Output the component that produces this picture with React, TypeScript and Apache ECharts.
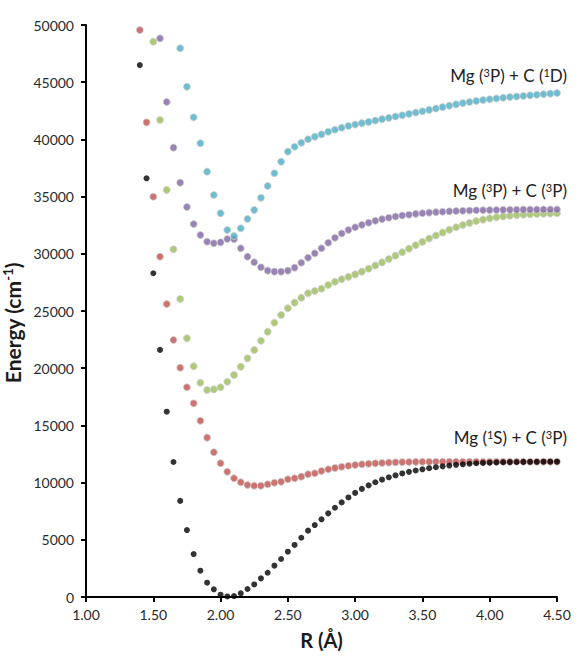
import React, { useEffect, useRef } from "react";
import * as echarts from "echarts";

const R_GRID = [
  1.4, 1.45, 1.5, 1.55, 1.6, 1.65, 1.7, 1.75, 1.8, 1.85, 1.9, 1.95, 2.0, 2.05, 2.1, 2.15, 2.2, 2.25, 2.3, 2.35, 2.4,
  2.45, 2.5, 2.55, 2.6, 2.65, 2.7, 2.75, 2.8, 2.85, 2.9, 2.95, 3.0, 3.05, 3.1, 3.15, 3.2, 3.25, 3.3, 3.35, 3.4, 3.45,
  3.5, 3.55, 3.6, 3.65, 3.7, 3.75, 3.8, 3.85, 3.9, 3.95, 4.0, 4.05, 4.1, 4.15, 4.2, 4.25, 4.3, 4.35, 4.4, 4.45, 4.5,
];

// Mg(1S)+C(3P), lower state (black)
const blackE = [
  46500, 36600, 28300, 21600, 16200, 11800, 8400, 5850, 3750, 2300, 1250, 670, 200, 50, 80, 320, 700, 1100, 1630,
  2120, 2740, 3320, 3960, 4550, 5180, 5800, 6290, 6790, 7310, 7800, 8270, 8700, 9100, 9450, 9760, 10030, 10260,
  10460, 10640, 10800, 10940, 11060, 11160, 11260, 11340, 11420, 11490, 11550, 11600, 11650, 11690, 11720, 11740,
  11760, 11780, 11790, 11800, 11810, 11815, 11820, 11825, 11830, 11830,
];

// Mg(1S)+C(3P), upper state (red)
const redE = [
  49560, 41490, 34990, 29750, 25610, 22470, 20040, 18330, 16930, 15410, 13930, 12650, 11690, 10950, 10380, 10030,
  9790, 9730, 9730, 9850, 9990, 10080, 10290, 10380, 10520, 10730, 10810, 11010, 11160, 11280, 11380, 11470, 11540,
  11600, 11650, 11690, 11720, 11750, 11770, 11790, 11800, 11810, 11815, 11820, 11820, 11825, 11825, 11830, 11830,
  11830, 11830, 11830, 11830, 11830, 11830, 11830, 11830, 11830, 11830, 11830, 11830, 11830, 11830,
];

// Mg(3P)+C(3P), lower (green)
const greenE = [
  null, null, 48540, 41700, 35580, 30390, 26050, 22610, 20170, 18730, 18090, 18150, 18330, 18820, 19410, 20130,
  20860, 21590, 22400, 23190, 23980, 24650, 25240, 25730, 26160, 26550, 26750, 26950, 27270, 27550, 27780, 27980,
  28200, 28440, 28700, 28970, 29250, 29550, 29840, 30140, 30450, 30750, 31040, 31330, 31600, 31860, 32100, 32320,
  32520, 32700, 32860, 32990, 33100, 33190, 33270, 33330, 33380, 33420, 33450, 33480, 33500, 33520, 33540,
];

// Mg(3P)+C(3P), upper (purple)
const purpleE = [
  null, null, null, 48830, 43270, 39280, 36220, 34090, 32600, 31640, 31060, 30920, 31000, 31290, 31270, 30480,
  29750, 29260, 28820, 28530, 28440, 28440, 28530, 28790, 29220, 29660, 30040, 30480, 30970, 31400, 31780, 32080,
  32320, 32530, 32720, 32890, 33030, 33150, 33260, 33350, 33420, 33490, 33550, 33600, 33640, 33680, 33710, 33740,
  33760, 33780, 33800, 33810, 33820, 33830, 33840, 33850, 33855, 33860, 33865, 33870, 33875, 33880, 33880,
];

// Mg(3P)+C(1D) (cyan)
const cyanE = [
  null, null, null, null, null, null, 47960, 44610, 41930, 39660, 37180, 35140, 33540, 32080, 31560, 32230, 33040,
  33830, 34900, 35930, 37040, 38050, 38930, 39360, 39710, 40010, 40240, 40440, 40670, 40850, 41020, 41170, 41300,
  41420, 41530, 41650, 41770, 41880, 42000, 42110, 42230, 42350, 42460, 42580, 42700, 42820, 42940, 43060, 43170,
  43270, 43360, 43440, 43510, 43580, 43640, 43700, 43750, 43800, 43850, 43900, 43950, 44000, 44050,
];

const X_TICKS = [1.0, 1.5, 2.0, 2.5, 3.0, 3.5, 4.0, 4.5];
const Y_TICKS = [0, 5000, 10000, 15000, 20000, 25000, 30000, 35000, 40000, 45000, 50000];

const LABELS = [
  { text: "Mg ({s|3}P) + C ({s|1}D)", y: 79 },
  { text: "Mg ({s|3}P) + C ({s|3}P)", y: 194 },
  { text: "Mg ({s|1}S) + C ({s|3}P)", y: 441 },
];

const FONT = "Lato, 'Open Sans', sans-serif";

function pairs(values: (number | null)[]) {
  const out: [number, number][] = [];
  values.forEach((v, i) => {
    if (v !== null) out.push([R_GRID[i], v]);
  });
  return out;
}

export default function App() {
  const ref = useRef<HTMLDivElement>(null);
  useEffect(() => {
    document.body.style.margin = "0";
    if (!ref.current) return;
    const chart = echarts.init(ref.current, undefined, { renderer: "svg" });
    const mk = (name: string, data: (number | null)[], color: string, size: number, border: boolean) => ({
      name,
      type: "scatter",
      data: pairs(data),
      symbol: "circle",
      symbolSize: size,
      itemStyle: border
        ? { color, borderColor: "rgba(205,205,205,0.95)", borderWidth: 1 }
        : { color, borderWidth: 0 },
      emphasis: { disabled: true },
    });
    chart.setOption({
      animation: false,
      grid: { left: 86, right: 23, top: 25, bottom: 69, containLabel: false, outerBoundsMode: "none" },
      xAxis: {
        type: "value",
        min: 1,
        max: 4.5,
        interval: 0.5,
        name: "R (Å)",
        nameLocation: "middle",
        nameGap: 33,
        nameTextStyle: { fontFamily: FONT, fontWeight: "bold", fontSize: 20, color: "#1a1a1a" },
        axisLine: { show: true, onZero: false, lineStyle: { color: "#000", width: 2 } },
        axisTick: { show: true, inside: false, length: 5, lineStyle: { color: "#000", width: 2 } },
        axisLabel: {
          fontFamily: FONT,
          fontSize: 14,
          color: "#2a2a2a",
          margin: 10,
          formatter: (v: number) => (X_TICKS.includes(v) ? v.toFixed(2) : ""),
        },
        splitLine: { show: false },
      },
      yAxis: {
        type: "value",
        min: 0,
        max: 50000,
        interval: 5000,
        name: "Energy (cm{s|-1})",
        nameLocation: "middle",
        nameGap: 55,
        nameTextStyle: {
          fontFamily: FONT,
          fontWeight: "bold",
          fontSize: 21,
          color: "#1a1a1a",
          padding: [0, 24, 0, 0],
          rich: { s: { fontFamily: FONT, fontWeight: "bold", fontSize: 13, verticalAlign: "top", color: "#1a1a1a" } },
        },
        axisLine: { show: true, onZero: false, lineStyle: { color: "#000", width: 2 } },
        axisTick: { show: true, inside: false, length: 5, lineStyle: { color: "#000", width: 2 } },
        axisLabel: {
          fontFamily: FONT,
          fontSize: 14,
          color: "#2a2a2a",
          margin: 12,
          formatter: (v: number) => (Y_TICKS.includes(v) ? String(v) : ""),
        },
        splitLine: { show: false },
      },
      series: [
        mk("Mg(1S)+C(3P) upper", redE, "#c0504d", 7, true),
        mk("Mg(3P)+C(3P) lower", greenE, "#9bbb59", 7, true),
        mk("Mg(3P)+C(3P) upper", purpleE, "#8064a2", 7, true),
        mk("Mg(3P)+C(1D)", cyanE, "#4bacc6", 7, true),
        mk("Mg(1S)+C(3P) ground", blackE, "#000000", 6, false),
      ],
      graphic: LABELS.map((l) => ({
        type: "text",
        right: 13,
        top: l.y - 12,
        style: {
          text: l.text,
          fontFamily: FONT,
          fontSize: 17,
          fill: "#222",
          rich: { s: { fontFamily: FONT, fontSize: 11, verticalAlign: "top", fill: "#222" } },
        },
      })),
    });
    return () => chart.dispose();
  }, []);
  return <div ref={ref} style={{ width: 580, height: 666 }} />;
}
